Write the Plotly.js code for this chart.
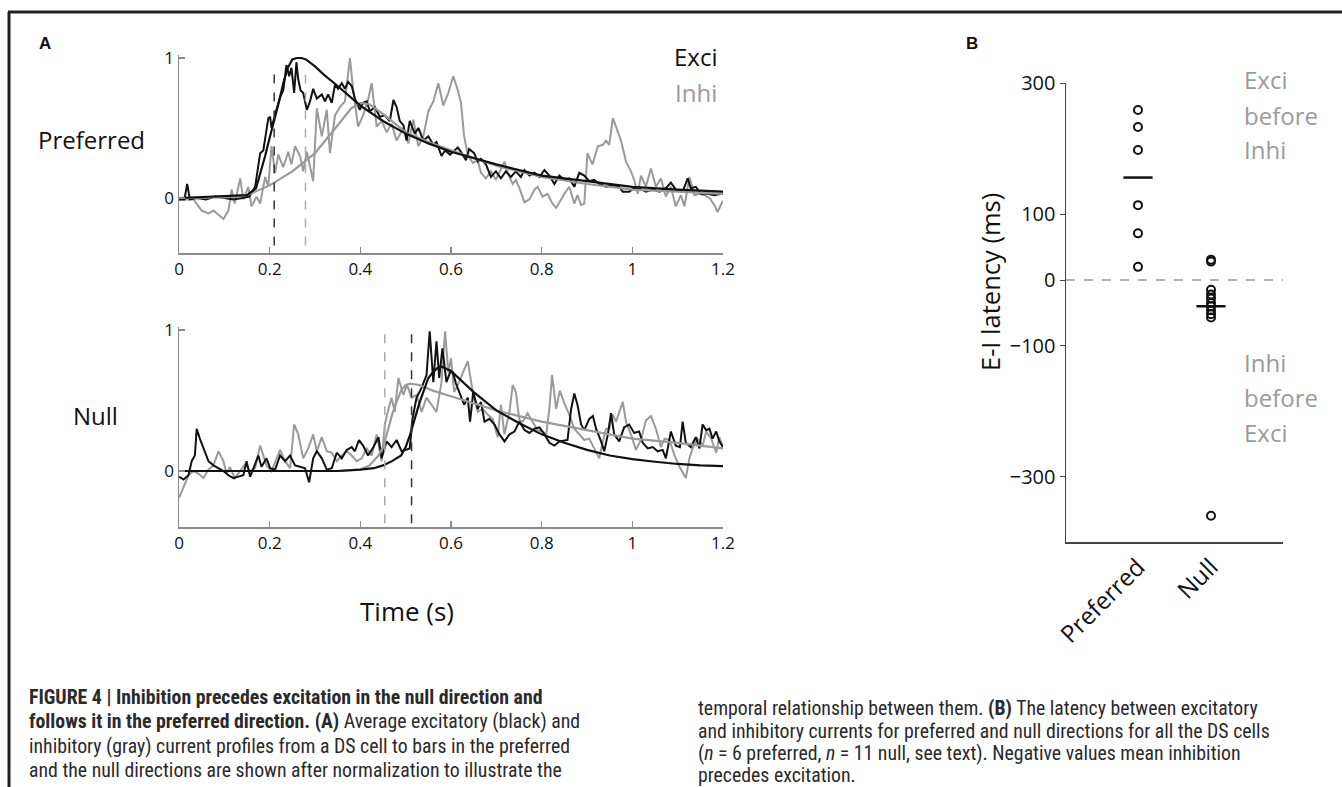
<!DOCTYPE html>
<html>
<head>
<meta charset="utf-8">
<script src="https://cdn.plot.ly/plotly-3.0.1.min.js"></script>
<style>html,body{margin:0;padding:0;background:#fff;}#chart{width:1342px;height:787px;}</style>
</head>
<body>
<div id="chart"></div>
<script>
// ---------- Panel A, Preferred ----------
const prefExcT = [0,0.012,0.018,0.024,0.04,0.06,0.08,0.1,0.12,0.14,0.155,0.168,0.179,0.186,0.197,0.201,0.204,0.214,0.223,0.230,0.237,0.243,0.248,0.254,0.259,0.263,0.268,0.274,0.282,0.289,0.296,0.304,0.315,0.322,0.329,0.337,0.344,0.351,0.359,0.366,0.373,0.381,0.388,0.399,0.406,0.414,0.421,0.432,0.443,0.454,0.465,0.473,0.480,0.487,0.495,0.502,0.509,0.520,0.528,0.539,0.550,0.561,0.568,0.579,0.587,0.598,0.615,0.622,0.633,0.640,0.651,0.659,0.666,0.677,0.688,0.699,0.710,0.721,0.732,0.743,0.754,0.762,0.773,0.784,0.795,0.806,0.817,0.828,0.839,0.850,0.861,0.872,0.883,0.894,0.905,0.916,0.927,0.942,0.957,0.971,0.979,0.993,1.004,1.015,1.030,1.045,1.060,1.074,1.085,1.096,1.111,1.122,1.129,1.140,1.151,1.166,1.181,1.196,1.2];
const prefExcV = [-0.01,-0.01,0.10,-0.01,0.0,-0.01,0.01,0.0,-0.01,0.0,0.01,0.08,0.32,0.34,0.57,0.58,0.50,0.62,0.72,0.77,0.95,0.87,0.93,0.75,0.97,0.85,0.77,0.75,0.63,0.69,0.78,0.71,0.74,0.69,0.74,0.68,0.81,0.78,0.82,0.78,0.83,0.80,0.71,0.63,0.68,0.69,0.62,0.65,0.58,0.59,0.55,0.70,0.65,0.55,0.52,0.41,0.55,0.46,0.50,0.41,0.44,0.38,0.40,0.30,0.34,0.31,0.36,0.33,0.27,0.35,0.32,0.26,0.28,0.24,0.15,0.19,0.14,0.19,0.15,0.19,0.15,0.20,0.16,0.18,0.15,0.20,0.16,0.10,0.16,0.13,0.14,0.08,0.18,0.16,0.12,0.13,0.10,0.08,0.09,0.08,0.045,0.045,0.07,0.07,0.045,0.06,0.045,0.07,0.11,0.06,0.045,0.14,0.07,0.08,0.03,0.03,0.02,0.03,0.03];

const prefInhT = [0,0.013,0.032,0.050,0.065,0.076,0.087,0.098,0.109,0.116,0.123,0.135,0.142,0.153,0.160,0.171,0.179,0.190,0.197,0.204,0.212,0.219,0.230,0.241,0.248,0.256,0.267,0.274,0.282,0.289,0.296,0.304,0.315,0.326,0.333,0.344,0.355,0.366,0.377,0.384,0.395,0.406,0.417,0.425,0.436,0.447,0.458,0.469,0.480,0.495,0.506,0.517,0.528,0.539,0.550,0.561,0.572,0.583,0.594,0.605,0.615,0.622,0.629,0.637,0.648,0.659,0.666,0.677,0.688,0.699,0.710,0.718,0.725,0.736,0.743,0.751,0.762,0.773,0.784,0.791,0.802,0.813,0.824,0.832,0.843,0.850,0.861,0.872,0.879,0.887,0.894,0.901,0.912,0.924,0.935,0.942,0.949,0.957,0.964,0.975,0.986,0.997,1.004,1.012,1.019,1.030,1.041,1.052,1.063,1.074,1.085,1.096,1.107,1.115,1.126,1.137,1.148,1.159,1.170,1.181,1.188,1.196,1.2];
const prefInhV = [-0.01,-0.01,-0.01,-0.09,-0.11,-0.09,-0.12,-0.15,-0.09,0.06,-0.04,0.14,-0.01,0.08,-0.06,0.01,-0.04,0.15,0.08,0.37,0.18,0.31,0.22,0.33,0.24,0.37,0.30,0.19,0.33,0.22,0.12,0.64,0.44,0.63,0.32,0.59,0.65,0.69,1.0,0.78,0.51,0.59,0.70,0.82,0.51,0.55,0.47,0.53,0.41,0.50,0.39,0.56,0.37,0.44,0.62,0.69,0.82,0.66,0.75,0.87,0.77,0.68,0.44,0.31,0.25,0.27,0.18,0.14,0.19,0.13,0.21,0.26,0.18,0.10,0.13,0.07,-0.03,-0.01,0.06,0.08,0.01,0.03,-0.04,-0.07,-0.01,0.03,0.08,-0.04,0.02,-0.05,-0.04,0.32,0.24,0.37,0.38,0.41,0.38,0.57,0.51,0.41,0.26,0.19,0.13,0.03,0.16,0.08,0.21,0.08,0.14,0.01,0.08,-0.06,0.02,-0.06,0.15,0.02,0.03,0.02,0.0,-0.05,-0.10,-0.04,-0.02];

const prefExcFitT = [0,0.1,0.15,0.17,0.18,0.19,0.2,0.21,0.22,0.23,0.24,0.25,0.26,0.27,0.28,0.3,0.32,0.35,0.4,0.45,0.5,0.55,0.6,0.7,0.8,0.9,1.0,1.1,1.2];
const prefExcFitV = [0,0.01,0.02,0.07,0.18,0.30,0.43,0.55,0.68,0.82,0.93,0.99,1.0,1.0,0.99,0.94,0.88,0.80,0.66,0.55,0.46,0.39,0.33,0.24,0.16,0.12,0.08,0.06,0.045];
const prefInhFitT = [0,0.1,0.15,0.2,0.25,0.3,0.35,0.38,0.4,0.42,0.45,0.5,0.55,0.6,0.7,0.8,0.9,1.0,1.1,1.2];
const prefInhFitV = [0,0.005,0.02,0.09,0.19,0.32,0.52,0.64,0.68,0.67,0.60,0.47,0.40,0.34,0.23,0.15,0.10,0.06,0.045,0.03];
const prefOnsetExc = 0.21, prefOnsetInh = 0.279;

// ---------- Panel A, Null ----------
const nullExcT = [0,0.010,0.021,0.028,0.035,0.039,0.046,0.054,0.065,0.076,0.087,0.098,0.109,0.120,0.131,0.142,0.149,0.157,0.168,0.175,0.182,0.193,0.201,0.212,0.223,0.234,0.245,0.256,0.267,0.278,0.287,0.296,0.304,0.315,0.326,0.337,0.348,0.359,0.370,0.381,0.388,0.397,0.406,0.417,0.429,0.440,0.447,0.458,0.469,0.480,0.491,0.502,0.509,0.515,0.524,0.535,0.546,0.553,0.561,0.568,0.574,0.581,0.590,0.598,0.604,0.611,0.622,0.629,0.637,0.642,0.649,0.659,0.666,0.674,0.685,0.696,0.707,0.718,0.729,0.740,0.751,0.762,0.773,0.784,0.795,0.806,0.817,0.828,0.839,0.857,0.865,0.872,0.879,0.887,0.894,0.905,0.913,0.920,0.931,0.938,0.946,0.953,0.960,0.971,0.982,0.993,1.004,1.015,1.023,1.034,1.045,1.056,1.067,1.074,1.085,1.096,1.105,1.111,1.118,1.129,1.140,1.148,1.155,1.163,1.170,1.177,1.185,1.192,1.2];
const nullExcV = [-0.04,-0.06,-0.03,0.07,0.11,0.30,0.23,0.16,0.07,0.04,0.02,0.0,-0.03,-0.05,-0.04,-0.03,0.07,-0.04,0.05,0.11,0.03,0.09,0.02,0.01,0.11,0.07,0.11,0.04,0.03,0.02,-0.08,0.09,0.14,0.09,0.01,0.02,0.13,0.09,0.15,0.17,0.14,0.22,0.18,0.11,0.17,0.24,0.09,0.21,0.17,0.22,0.14,0.15,0.16,0.37,0.52,0.59,0.68,0.99,0.63,0.92,0.66,0.87,0.63,0.70,0.70,0.62,0.53,0.47,0.52,0.35,0.56,0.44,0.49,0.35,0.37,0.33,0.26,0.21,0.26,0.28,0.35,0.29,0.27,0.30,0.31,0.26,0.20,0.18,0.21,0.22,0.44,0.55,0.47,0.33,0.29,0.37,0.39,0.30,0.21,0.14,0.26,0.41,0.26,0.21,0.31,0.33,0.27,0.28,0.20,0.16,0.17,0.14,0.15,0.09,0.28,0.18,0.17,0.35,0.20,0.17,0.24,0.16,0.33,0.29,0.30,0.23,0.28,0.21,0.17];

const nullInhT = [0,0.010,0.021,0.032,0.043,0.054,0.065,0.076,0.087,0.098,0.105,0.112,0.123,0.135,0.146,0.157,0.168,0.179,0.186,0.193,0.204,0.215,0.223,0.234,0.245,0.254,0.263,0.274,0.285,0.296,0.304,0.315,0.326,0.337,0.348,0.359,0.370,0.381,0.392,0.403,0.414,0.425,0.436,0.447,0.454,0.462,0.469,0.476,0.484,0.495,0.503,0.513,0.524,0.535,0.546,0.557,0.568,0.579,0.587,0.594,0.600,0.607,0.618,0.629,0.637,0.648,0.659,0.670,0.681,0.692,0.703,0.710,0.718,0.729,0.736,0.743,0.751,0.758,0.769,0.780,0.791,0.802,0.810,0.817,0.823,0.832,0.840,0.850,0.861,0.872,0.883,0.894,0.905,0.916,0.927,0.935,0.942,0.949,0.957,0.964,0.971,0.979,0.986,0.997,1.008,1.019,1.030,1.041,1.052,1.063,1.071,1.082,1.093,1.104,1.118,1.126,1.133,1.144,1.155,1.163,1.174,1.185,1.192,1.2];
const nullInhV = [-0.19,-0.11,-0.03,0.0,-0.02,-0.05,0.01,0.04,0.14,0.07,-0.02,0.03,-0.05,0.0,0.05,0.0,0.02,0.18,0.11,0.04,0.0,0.09,0.15,0.07,0.02,0.33,0.26,0.09,0.16,0.26,0.14,0.24,0.14,0.13,0.07,0.11,0.14,0.11,0.07,0.09,0.16,0.11,0.26,0.07,0.33,0.44,0.52,0.42,0.66,0.54,0.61,0.52,0.54,0.42,0.52,0.47,0.42,0.63,0.99,0.70,0.80,0.56,0.63,0.72,0.78,0.56,0.42,0.44,0.40,0.37,0.24,0.47,0.26,0.42,0.61,0.56,0.36,0.35,0.41,0.35,0.29,0.28,0.26,0.44,0.68,0.44,0.57,0.48,0.40,0.30,0.26,0.22,0.23,0.16,0.09,0.21,0.30,0.30,0.40,0.35,0.42,0.49,0.35,0.26,0.15,0.22,0.36,0.39,0.30,0.17,0.23,0.22,0.11,0.03,-0.05,0.09,0.16,0.23,0.18,0.28,0.23,0.13,0.24,0.17];

const nullExcFitT = [0,0.35,0.4,0.43,0.45,0.47,0.49,0.5,0.51,0.52,0.53,0.54,0.55,0.56,0.57,0.58,0.6,0.65,0.7,0.75,0.8,0.85,0.9,0.95,1.0,1.05,1.1,1.15,1.2];
const nullExcFitV = [0,0.0,0.01,0.02,0.04,0.07,0.11,0.17,0.26,0.37,0.48,0.57,0.66,0.70,0.73,0.74,0.71,0.56,0.43,0.34,0.26,0.20,0.15,0.11,0.085,0.066,0.05,0.04,0.035];
const nullInhFitT = [0,0.35,0.4,0.42,0.44,0.45,0.46,0.47,0.48,0.49,0.5,0.51,0.53,0.56,0.6,0.7,0.8,0.9,1.0,1.1,1.2];
const nullInhFitV = [0,0,0.01,0.04,0.11,0.17,0.28,0.40,0.49,0.57,0.61,0.62,0.61,0.57,0.53,0.43,0.35,0.29,0.23,0.20,0.16];
const nullOnsetExc = 0.513, nullOnsetInh = 0.454;

const timeTicks = [0,0.2,0.4,0.6,0.8,1,1.2];
const timeTickText = ["0","0.2","0.4","0.6","0.8","1","1.2"];

// ---------- Panel B ----------
const directions = ["Preferred","Null"];
const preferredLatency = [259,233,198,114,71,20];
const nullLatency = [31,28,-15,-22,-28,-35,-40,-46,-52,-57,-359];
const meanLatency = [156,-40];
const latencyTicks = [300,100,0,-100,-300];
const latencyTickText = ["300","100","0","\u2212100","\u2212300"];

const W = 1342, H = 787;
const px = v => v / W, py = v => 1 - v / H;
const BLACK = '#111111', GRAY = '#9a9a9a', AX = '#8a8a8a';
const LABEL_FONT = 'Open Sans, Noto Sans, sans-serif';

function lineTrace(x, y, color, xa, ya, w) {
  return {x: x, y: y, type: 'scatter', mode: 'lines', xaxis: xa, yaxis: ya,
          line: {color: color, width: w || 2}, hoverinfo: 'skip', showlegend: false};
}

const traces = [
  lineTrace(prefInhT, prefInhV, GRAY, 'x', 'y'),
  lineTrace(prefExcT, prefExcV, BLACK, 'x', 'y'),
  lineTrace(prefInhFitT, prefInhFitV, GRAY, 'x', 'y', 2.2),
  lineTrace(prefExcFitT, prefExcFitV, BLACK, 'x', 'y', 2.2),
  lineTrace(nullInhT, nullInhV, GRAY, 'x2', 'y2'),
  lineTrace(nullExcT, nullExcV, BLACK, 'x2', 'y2'),
  lineTrace(nullInhFitT, nullInhFitV, GRAY, 'x2', 'y2', 2.2),
  lineTrace(nullExcFitT, nullExcFitV, BLACK, 'x2', 'y2', 2.2),
  {x: preferredLatency.map(() => 0), y: preferredLatency, type: 'scatter', mode: 'markers',
   xaxis: 'x3', yaxis: 'y3', marker: {symbol: 'circle-open', size: 8, color: BLACK, line: {width: 2, color: BLACK}},
   hoverinfo: 'skip', showlegend: false},
  {x: nullLatency.map(() => 1), y: nullLatency, type: 'scatter', mode: 'markers',
   xaxis: 'x3', yaxis: 'y3', marker: {symbol: 'circle-open', size: 8, color: BLACK, line: {width: 2, color: BLACK}},
   hoverinfo: 'skip', showlegend: false}
];
meanLatency.forEach((m, i) => {
  traces.push(lineTrace([i - 0.2, i + 0.2], [m, m], BLACK, 'x3', 'y3', 2.5));
});

function timeAxis(domain, anchor) {
  return {domain: domain, range: [0, 1.2], anchor: anchor, tickvals: timeTicks, ticktext: timeTickText,
          ticks: 'inside', ticklen: 6, tickcolor: AX, tickwidth: 1.5, showline: true, linecolor: AX, linewidth: 1.5,
          showgrid: false, zeroline: false, tickfont: {family: LABEL_FONT, size: 17, color: '#111'}, fixedrange: true};
}
function normAxis(domain, range, anchor) {
  return {domain: domain, range: range, anchor: anchor, tickvals: [0, 1], ticktext: ['0', '1'],
          ticks: 'inside', ticklen: 6, tickcolor: AX, tickwidth: 1.5, showline: true, linecolor: AX, linewidth: 1.5,
          showgrid: false, zeroline: false, tickfont: {family: LABEL_FONT, size: 17, color: '#111'}, fixedrange: true};
}

const shapes = [
  // figure frame
  {type: 'line', xref: 'paper', yref: 'paper', x0: px(8), x1: 1, y0: py(12), y1: py(12), line: {color: '#231f20', width: 3}},
  {type: 'line', xref: 'paper', yref: 'paper', x0: px(9), x1: px(9), y0: 0, y1: py(12), line: {color: '#231f20', width: 3}},
  // onset markers
  {type: 'line', xref: 'x', yref: 'y', x0: prefOnsetExc, x1: prefOnsetExc, y0: -0.34, y1: 0.94, line: {color: '#333', width: 1.5, dash: 'dash'}},
  {type: 'line', xref: 'x', yref: 'y', x0: prefOnsetInh, x1: prefOnsetInh, y0: -0.34, y1: 0.88, line: {color: '#aaa', width: 1.5, dash: 'dash'}},
  {type: 'line', xref: 'x2', yref: 'y2', x0: nullOnsetExc, x1: nullOnsetExc, y0: -0.37, y1: 1.0, line: {color: '#333', width: 1.5, dash: 'dash'}},
  {type: 'line', xref: 'x2', yref: 'y2', x0: nullOnsetInh, x1: nullOnsetInh, y0: -0.37, y1: 1.0, line: {color: '#aaa', width: 1.5, dash: 'dash'}},
  // zero latency line
  {type: 'line', xref: 'x3', yref: 'y3', x0: -0.986, x1: 1.986, y0: 0, y1: 0, line: {color: '#999', width: 1.5, dash: 'dash'}}
];

function ann(text, x, y, opts) {
  return Object.assign({text: text, xref: 'paper', yref: 'paper', x: px(x), y: py(y), showarrow: false,
    xanchor: 'left', yanchor: 'middle', font: {family: LABEL_FONT, size: 24, color: '#111'}}, opts || {});
}
const CAP = 'Liberation Sans Narrow, Arial Narrow, Roboto Condensed, sans-serif';
const capFont = {family: CAP, size: 19.8, color: '#2a2a2a'};

const annotations = [
  ann('<b>A</b>', 37, 43, {font: {family: 'Liberation Sans, Arial, sans-serif', size: 17, color: '#111'}}),
  ann('<b>B</b>', 964, 43, {font: {family: 'Liberation Sans, Arial, sans-serif', size: 17, color: '#111'}}),
  ann('Preferred', 91, 140, {xanchor: 'center'}),
  ann('Null', 95, 415, {xanchor: 'center'}),
  ann('Exci', 719, 57, {xanchor: 'right'}),
  ann('Inhi', 719, 92, {xanchor: 'right', font: {family: LABEL_FONT, size: 24, color: GRAY}}),
  ann('Time (s)', 407, 611, {xanchor: 'center', font: {family: LABEL_FONT, size: 26, color: '#111'}}),
  ann('E-I latency (ms)', 990, 282, {xanchor: 'center', textangle: -90, font: {family: LABEL_FONT, size: 25.5, color: '#111'}}),
  ann('Exci', 1242, 80, {font: {family: LABEL_FONT, size: 24, color: GRAY}}),
  ann('before', 1242, 115, {font: {family: LABEL_FONT, size: 24, color: GRAY}}),
  ann('Inhi', 1242, 149, {font: {family: LABEL_FONT, size: 24, color: GRAY}}),
  ann('Inhi', 1242, 362, {font: {family: LABEL_FONT, size: 24, color: GRAY}}),
  ann('before', 1242, 397, {font: {family: LABEL_FONT, size: 24, color: GRAY}}),
  ann('Exci', 1242, 432, {font: {family: LABEL_FONT, size: 24, color: GRAY}}),
  // caption
  ann('<b>FIGURE 4 | Inhibition precedes excitation in the null direction and</b>', 27, 697, {font: capFont}),
  ann('<b>follows it in the preferred direction. (A)</b> Average excitatory (black) and', 27, 721, {font: capFont}),
  ann('inhibitory (gray) current profiles from a DS cell to bars in the preferred', 27, 746, {font: capFont}),
  ann('and the null directions are shown after normalization to illustrate the', 27, 770, {font: capFont}),
  ann('temporal relationship between them. <b>(B)</b> The latency between excitatory', 696, 708, {font: capFont}),
  ann('and inhibitory currents for preferred and null directions for all the DS cells', 696, 731, {font: capFont}),
  ann('(<i>n</i> = 6 preferred, <i>n</i> = 11 null, see text). Negative values mean inhibition', 696, 753, {font: capFont}),
  ann('precedes excitation.', 696, 775, {font: capFont})
];

const layout = {
  width: W, height: H, margin: {l: 0, r: 0, t: 0, b: 0},
  paper_bgcolor: '#ffffff', plot_bgcolor: 'rgba(0,0,0,0)', showlegend: false,
  xaxis: timeAxis([px(179), px(723)], 'y'),
  yaxis: normAxis([py(253), py(55.2)], [-0.393, 1.02], 'x'),
  xaxis2: timeAxis([px(179), px(723)], 'y2'),
  yaxis2: normAxis([py(527), py(327.2)], [-0.397, 1.02], 'x2'),
  xaxis3: {domain: [px(1066), px(1283)], range: [-0.986, 1.986], anchor: 'y3', tickvals: [0, 1], ticktext: directions,
           tickangle: -45, ticks: '', showline: true, linecolor: '#444', linewidth: 1.5, showgrid: false, zeroline: false,
           tickfont: {family: LABEL_FONT, size: 24, color: '#111'}, fixedrange: true},
  yaxis3: {domain: [py(542), py(83)], range: [-399, 300], anchor: 'x3', tickvals: latencyTicks, ticktext: latencyTickText,
           ticks: 'outside', ticklen: 5, tickcolor: '#444', showline: true, linecolor: '#444', linewidth: 1.5,
           showgrid: false, zeroline: false, tickfont: {family: LABEL_FONT, size: 20, color: '#111'}, fixedrange: true},
  shapes: shapes,
  annotations: annotations
};

Plotly.newPlot('chart', traces, layout, {staticPlot: true, displayModeBar: false});
</script>
</body>
</html>
